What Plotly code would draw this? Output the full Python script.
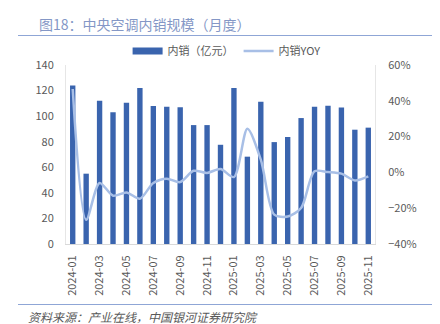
import plotly.graph_objects as go

months = ["2024-01", "2024-02", "2024-03", "2024-04", "2024-05", "2024-06",
          "2024-07", "2024-08", "2024-09", "2024-10", "2024-11", "2024-12",
          "2025-01", "2025-02", "2025-03", "2025-04", "2025-05", "2025-06",
          "2025-07", "2025-08", "2025-09", "2025-10", "2025-11"]
sales = [124, 55, 112, 103, 110.5, 122, 108, 107.3, 107, 93, 93, 77.6,
         122, 68.3, 111.3, 79.7, 83.7, 98.5, 107.3, 108.1, 106.8, 89.4, 91]
yoy = [46.6, -26.5, -5.9, -13.0, -11.2, -14.7, -5.9, -3.5, -5.4, 0.9, -0.3, 1.9,
       -2.6, 24.4, 7.1, -23.6, -24.6, -19.9, 0.6, 0.2, -0.7, -4.5, -2.2]
tick_labels = months[::2]

BAR_C = "#3a64ae"
LINE_C = "#a8bfe6"
TXT_C = "#595959"
FONT = "Noto Sans CJK SC"

W, H = 440, 324
ML, MR, MT, MB = 66, 65, 65, 80

fig = go.Figure()
fig.add_trace(go.Bar(x=months, y=sales, name="内销（亿元）",
                     marker=dict(color=BAR_C, line=dict(width=0)),
                     width=0.4, showlegend=False, legendgroup="sales"))
# wide flat swatch for the bar series in the legend
fig.add_trace(go.Scatter(x=[None], y=[None], name="内销（亿元）", mode="lines",
                         line=dict(color=BAR_C, width=7), legendgroup="sales",
                         hoverinfo="skip"))
fig.add_trace(go.Scatter(x=months, y=yoy, name="内销YOY", yaxis="y2",
                         mode="lines", line=dict(color=LINE_C, width=2.5,
                                                 shape="spline", smoothing=0.8)))

fig.update_layout(
    width=W, height=H,
    margin=dict(l=ML, r=MR, t=MT, b=MB, autoexpand=False),
    paper_bgcolor="white", plot_bgcolor="white",
    font=dict(family=FONT, size=11, color=TXT_C),
    showlegend=True,
    legend=dict(orientation="h", xref="container", yref="container",
                x=0.515, xanchor="center", y=1 - 51 / H, yanchor="middle",
                font=dict(size=11, color=TXT_C), itemwidth=30,
                traceorder="normal", bgcolor="rgba(0,0,0,0)"),
    xaxis=dict(type="category", tickmode="array", tickvals=tick_labels,
               ticktext=tick_labels, tickangle=-90, showgrid=False,
               showline=True, linecolor="#d9d9d9", linewidth=1,
               ticks="", ticklabelstandoff=6,
               tickfont=dict(size=11, color=TXT_C)),
    yaxis=dict(range=[0, 140], dtick=20, showgrid=False, zeroline=False,
               showline=True, linecolor="#e6e6e6", ticks="",
               ticklabelstandoff=9,
               tickfont=dict(size=11, color=TXT_C)),
    yaxis2=dict(range=[-40, 60], dtick=20, overlaying="y", side="right",
                showgrid=False, zeroline=False, ticksuffix="%",
                showline=True, linecolor="#e6e6e6", ticks="",
                ticklabelstandoff=10,
                tickfont=dict(size=11, color=TXT_C)),
    bargap=0.6,
)

plot_w = W - ML - MR
plot_h = H - MT - MB


def px_x(px):
    return (px - ML) / plot_w


def px_y(py):
    return (H - MB - py) / plot_h


fig.add_annotation(text="图18：中央空调内销规模（月度）", xref="paper", yref="paper",
                   x=px_x(37), y=px_y(24), xanchor="left", yanchor="middle",
                   showarrow=False, font=dict(size=14, color="#8497c6", family=FONT))
fig.add_annotation(text="<i>资料来源：产业在线，中国银河证券研究院</i>", xref="paper", yref="paper",
                   x=px_x(26), y=px_y(316), xanchor="left", yanchor="middle",
                   showarrow=False, font=dict(size=12, color=TXT_C, family=FONT))
for yy in (35.5, 304.5):
    fig.add_shape(type="line", xref="paper", yref="paper",
                  x0=px_x(18), x1=px_x(432), y0=px_y(yy), y1=px_y(yy),
                  line=dict(color="#8fa6d6", width=1.2))

fig.write_html("out.html")
